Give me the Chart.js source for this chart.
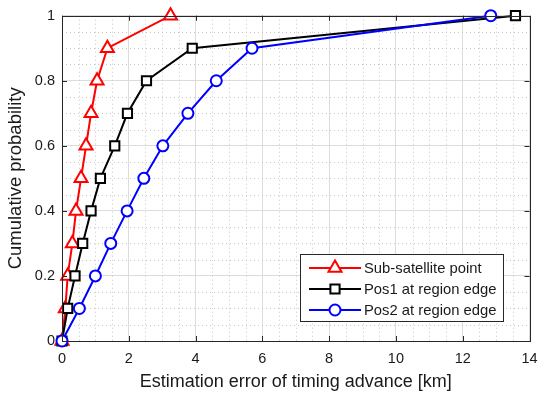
<!DOCTYPE html>
<html>
<head>
<meta charset="utf-8">
<script src="https://cdn.jsdelivr.net/npm/chart.js@4"></script>
<style>
  html, body { margin: 0; padding: 0; background: #fff; }
  #wrap { width: 539px; height: 396px; }
</style>
</head>
<body>
<div id="wrap"><canvas id="cdfChart" width="539" height="396"></canvas></div>
<script>
const probs = [0, 0.1, 0.2, 0.3, 0.4, 0.5, 0.6, 0.7, 0.8, 0.9, 1.0];
const subSatErr = [0, 0.10, 0.17, 0.31, 0.42, 0.57, 0.72, 0.87, 1.05, 1.36, 3.25];
const pos1Err = [0, 0.17, 0.39, 0.62, 0.87, 1.15, 1.58, 1.96, 2.53, 3.90, 13.58];
const pos2Err = [0, 0.52, 1.00, 1.46, 1.95, 2.45, 3.02, 3.77, 4.62, 5.69, 12.84];
const seriesLabels = ['Sub-satellite point', 'Pos1 at region edge', 'Pos2 at region edge'];
const xTicks = [0, 2, 4, 6, 8, 10, 12, 14];
const yTicks = [0, 0.2, 0.4, 0.6, 0.8, 1];

const FONT = '"Liberation Sans", Arial, sans-serif';
const TXT = '#1a1a1a';

function toPoints(xs) {
  return xs.map((x, i) => ({ x: x, y: probs[i] }));
}

// minor dotted grid, inward ticks, axes box
const frame = {
  id: 'frame',
  beforeDatasetsDraw(chart) {
    const { ctx, chartArea: a, scales: { x, y } } = chart;
    ctx.save();
    ctx.strokeStyle = '#c8c8c8';
    ctx.lineWidth = 1;
    ctx.setLineDash([1, 3]);
    for (let v = 0.5; v < 14; v += 0.5) {
      if (v % 2 === 0) continue;
      const px = Math.round(x.getPixelForValue(v)) + 0.5;
      ctx.beginPath(); ctx.moveTo(px, a.top); ctx.lineTo(px, a.bottom); ctx.stroke();
    }
    for (let k = 1; k < 20; k++) {
      if (k % 4 === 0) continue;
      const py = Math.round(y.getPixelForValue(k * 0.05)) + 0.5;
      ctx.beginPath(); ctx.moveTo(a.left, py); ctx.lineTo(a.right, py); ctx.stroke();
    }
    ctx.restore();
  },
  afterDraw(chart) {
    const { ctx, chartArea: a, scales: { x, y } } = chart;
    ctx.save();
    ctx.strokeStyle = '#262626';
    ctx.lineWidth = 1;
    const t = 5;
    xTicks.forEach(v => {
      const px = Math.round(x.getPixelForValue(v)) + 0.5;
      ctx.beginPath();
      ctx.moveTo(px, a.bottom); ctx.lineTo(px, a.bottom - t);
      ctx.moveTo(px, a.top); ctx.lineTo(px, a.top + t);
      ctx.stroke();
    });
    yTicks.forEach(v => {
      const py = Math.round(y.getPixelForValue(v)) + 0.5;
      ctx.beginPath();
      ctx.moveTo(a.left, py); ctx.lineTo(a.left + t, py);
      ctx.moveTo(a.right, py); ctx.lineTo(a.right - t, py);
      ctx.stroke();
    });
    ctx.strokeRect(Math.round(a.left) + 0.5, Math.round(a.top) + 0.5,
      Math.round(a.right - a.left), Math.round(a.bottom - a.top));

    // legend box
    const bx = 300, by = 254, bw = 203, bh = 67;
    ctx.fillStyle = '#fff';
    ctx.fillRect(bx, by, bw, bh);
    ctx.strokeStyle = '#262626';
    ctx.strokeRect(bx + 0.5, by + 0.5, bw, bh);
    ctx.font = '14.8px ' + FONT;
    ctx.textBaseline = 'middle';
    chart.data.datasets.forEach((ds, i) => {
      const cy = by + 14 + i * 21;
      ctx.strokeStyle = ds.borderColor;
      ctx.lineWidth = 2;
      ctx.beginPath(); ctx.moveTo(bx + 9, cy); ctx.lineTo(bx + 61, cy); ctx.stroke();
      ctx.fillStyle = '#fff';
      Chart.helpers.drawPoint(ctx, {
        pointStyle: ds.pointStyle, radius: ds.pointRadius, rotation: 0, borderWidth: 2
      }, bx + 35, cy);
      ctx.fillStyle = TXT;
      ctx.fillText(ds.label, bx + 64, cy + 1);
    });
    ctx.restore();
  }
};

new Chart(document.getElementById('cdfChart').getContext('2d'), {
  type: 'line',
  data: {
    datasets: [
      {
        label: seriesLabels[0],
        data: toPoints(subSatErr),
        borderColor: '#ff0000',
        pointBorderColor: '#ff0000',
        pointBackgroundColor: '#ffffff',
        pointStyle: 'triangle',
        pointRadius: 7.5,
        order: 2
      },
      {
        label: seriesLabels[1],
        data: toPoints(pos1Err),
        borderColor: '#000000',
        pointBorderColor: '#000000',
        pointBackgroundColor: '#ffffff',
        pointStyle: 'rect',
        pointRadius: 6.5,
        order: 1
      },
      {
        label: seriesLabels[2],
        data: toPoints(pos2Err),
        borderColor: '#0000ff',
        pointBorderColor: '#0000ff',
        pointBackgroundColor: '#ffffff',
        pointStyle: 'circle',
        pointRadius: 5.5,
        order: 0
      }
    ]
  },
  options: {
    responsive: false,
    animation: false,
    clip: false,
    elements: {
      line: { borderWidth: 2, tension: 0 },
      point: { borderWidth: 2, hoverRadius: 6 }
    },
    layout: { padding: { left: 0, right: 0, top: 15, bottom: 0 } },
    plugins: {
      legend: { display: false },
      tooltip: { enabled: false }
    },
    scales: {
      x: {
        type: 'linear',
        min: 0,
        max: 14,
        afterBuildTicks: s => { s.ticks = xTicks.map(v => ({ value: v })); },
        afterFit: s => { s.height = 55; s.paddingRight = 8; s.paddingLeft = 0; },
        grid: { color: '#dcdcdc', drawTicks: false },
        border: { display: false },
        ticks: { color: TXT, padding: 9, font: { family: FONT, size: 14.5 } },
        title: {
          display: true,
          text: 'Estimation error of timing advance [km]',
          color: TXT,
          font: { family: FONT, size: 18 },
          padding: { top: 0, bottom: 3 }
        }
      },
      y: {
        type: 'linear',
        min: 0,
        max: 1,
        afterBuildTicks: s => { s.ticks = yTicks.map(v => ({ value: v })); },
        afterFit: s => { s.width = 62; },
        grid: { color: '#dcdcdc', drawTicks: false },
        border: { display: false },
        ticks: {
          color: TXT,
          padding: 7,
          font: { family: FONT, size: 14.5 },
          callback: v => String(+v.toFixed(1))
        },
        title: {
          display: true,
          text: 'Cumulative probability',
          color: TXT,
          font: { family: FONT, size: 18.5 },
          padding: { top: 5, bottom: 0 }
        }
      }
    }
  },
  plugins: [frame]
});
</script>
</body>
</html>
